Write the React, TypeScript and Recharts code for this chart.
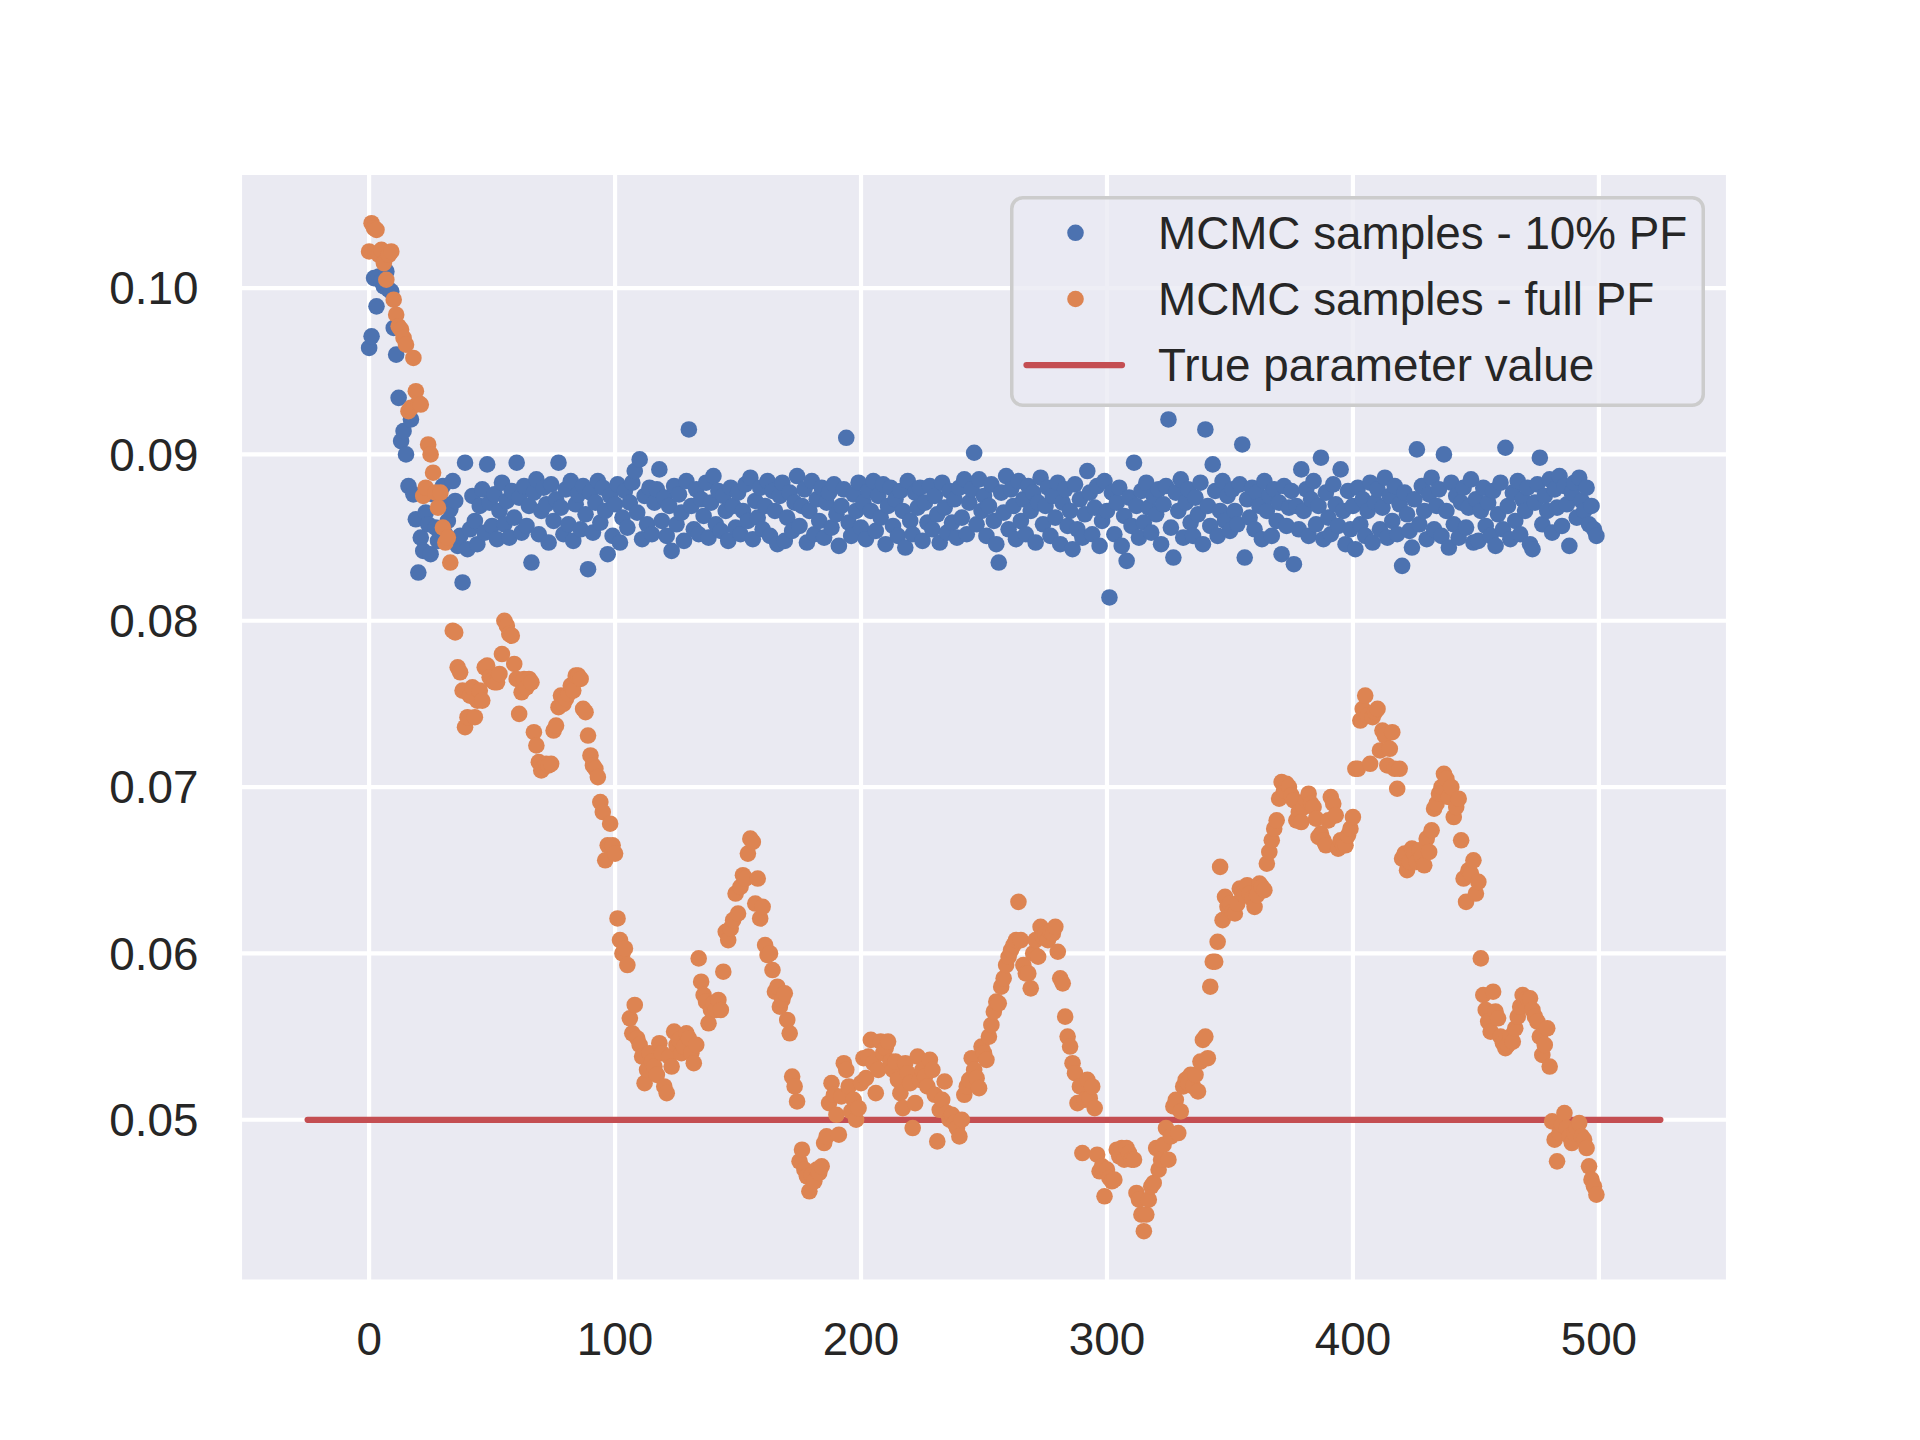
import React from 'react';
import { ScatterChart, Scatter, XAxis, YAxis, CartesianGrid, ReferenceLine, Legend } from 'recharts';

// MCMC chain values, in units of 1e-4
const tenPctPF = [
  964, 971, 1006, 989, 1007, 1004, 1001, 1010, 999, 998, 976, 960, 934, 908, 914, 900, 881, 921, 876, 861, 829, 850, 842, 865, 858,
  840, 876, 856, 848, 872, 881, 852, 860, 867, 884, 872, 845, 851, 823, 895, 843, 855, 875, 860, 846, 869, 879, 853, 894, 871,
  857, 876, 849, 866, 883, 858, 872, 850, 878, 862, 895, 874, 853, 881, 857, 869, 835, 877, 885, 852, 866, 880, 870, 847, 882,
  860, 873, 895, 868, 852, 879, 858, 884, 848, 870, 876, 855, 881, 864, 831, 877, 853, 871, 884, 859, 880, 866, 840, 875, 851,
  870, 882, 847, 862, 878, 856, 871, 883, 890, 865, 897, 849, 875, 858, 880, 852, 871, 879, 891, 860, 874, 851, 869, 842, 881,
  858, 876, 865, 848, 884, 915, 869, 855, 879, 852, 873, 863, 883, 850, 871, 887, 858, 878, 854, 875, 866, 848, 880, 869, 856,
  877, 852, 866, 882, 860, 886, 849, 872, 862, 880, 855, 869, 884, 851, 878, 866, 846, 875, 883, 848, 862, 877, 854, 871, 887,
  857, 869, 879, 847, 866, 884, 852, 873, 860, 880, 850, 871, 877, 856, 882, 864, 845, 869, 879, 910, 859, 851, 876, 866, 883,
  856, 871, 849, 878, 866, 884, 854, 875, 862, 882, 846, 869, 880, 857, 873, 851, 878, 866, 844, 884, 860, 852, 877, 868, 880,
  848, 871, 859, 881, 855, 875, 864, 847, 883, 868, 853, 878, 859, 873, 850, 880, 862, 885, 852, 871, 879, 901, 858, 885, 866,
  875, 851, 869, 882, 860, 846, 835, 877, 865, 887, 855, 879, 869, 849, 884, 860, 873, 852, 881, 866, 877, 847, 871, 886, 858,
  869, 880, 851, 875, 862, 883, 846, 871, 879, 857, 866, 843, 882, 855, 873, 850, 864, 890, 877, 852, 868, 881, 845, 860, 884,
  866, 814, 877, 852, 871, 880, 845, 863, 836, 874, 857, 895, 869, 850, 878, 859, 883, 868, 853, 875, 864, 879, 846, 870, 881,
  921, 856, 838, 877, 866, 885, 850, 871, 879, 859, 851, 874, 864, 883, 846, 915, 869, 857, 894, 878, 851, 866, 884, 860, 875,
  854, 879, 866, 858, 882, 906, 838, 873, 862, 880, 855, 877, 869, 849, 884, 866, 875, 851, 879, 860, 871, 840, 881, 857, 868,
  878, 834, 869, 855, 891, 866, 879, 851, 873, 884, 858, 869, 898, 849, 877, 862, 852, 882, 870, 857, 891, 866, 846, 878, 855,
  869, 843, 880, 858, 873, 851, 866, 883, 847, 871, 879, 855, 868, 886, 850, 875, 860, 881, 852, 870, 833, 877, 864, 854, 844,
  873, 903, 858, 881, 866, 849, 876, 886, 855, 869, 879, 851, 900, 866, 844, 883, 858, 875, 850, 871, 880, 856, 868, 885, 847,
  873, 848, 866, 880, 857, 871, 851, 878, 845, 864, 883, 855, 904, 869, 849, 877, 860, 884, 852, 873, 866, 880, 846, 843, 871,
  882, 898, 858, 875, 866, 885, 853, 879, 868, 887, 857, 881, 870, 845, 877, 883, 862, 886, 872, 866, 880, 858, 869, 855, 851,
];

const fullPF = [
  1022, 1039, 1036, 1035, 1020, 1023, 1015, 1005, 1020, 1022, 993, 984, 977, 975, 970, 966, 926, 928, 958, 938, 931, 930, 875, 880, 906,
  900, 889, 877, 868, 877, 856, 847, 850, 835, 794, 793, 772, 769, 758, 736, 742, 755, 760, 742, 752, 758, 752, 772, 773, 766,
  764, 763, 763, 768, 780, 800, 797, 792, 791, 774, 765, 744, 757, 765, 760, 765, 763, 733, 725, 715, 710, 712, 714, 713, 714,
  734, 737, 748, 755, 750, 753, 756, 761, 758, 767, 767, 765, 747, 745, 731, 719, 713, 711, 706, 691, 685, 656, 665, 678, 665,
  660, 621, 608, 600, 603, 593, 561, 552, 569, 549, 545, 538, 522, 530, 540, 535, 532, 527, 546, 540, 520, 516, 538, 532, 553,
  545, 548, 540, 544, 552, 549, 540, 534, 545, 597, 583, 575, 571, 558, 566, 570, 566, 572, 566, 589, 613, 608, 615, 620, 636,
  624, 640, 647, 645, 660, 669, 667, 630, 645, 621, 628, 605, 599, 600, 590, 577, 580, 568, 572, 576, 560, 552, 526, 520, 511,
  475, 482, 470, 466, 457, 467, 463, 470, 468, 472, 486, 490, 510, 522, 515, 503, 491, 514, 534, 530, 520, 505, 512, 500, 507,
  522, 537, 525, 538, 548, 534, 516, 530, 547, 540, 543, 547, 535, 530, 535, 524, 516, 507, 534, 528, 522, 495, 510, 538, 524,
  530, 526, 520, 536, 530, 515, 487, 506, 512, 523, 504, 500, 503, 498, 495, 490, 500, 515, 520, 524, 537, 530, 525, 519, 544,
  540, 536, 550, 557, 565, 571, 570, 580, 585, 593, 598, 602, 605, 608, 631, 608, 593, 588, 588, 579, 600, 608, 598, 616, 610,
  612, 608, 613, 612, 616, 601, 585, 582, 562, 550, 544, 534, 528, 510, 520, 480, 512, 524, 513, 520, 507, 479, 469, 472, 454,
  470, 465, 463, 464, 482, 478, 483, 476, 483, 480, 476, 476, 456, 452, 443, 433, 443, 452, 460, 462, 483, 470, 476, 485, 495,
  476, 490, 508, 512, 492, 505, 520, 524, 522, 527, 520, 527, 517, 535, 548, 550, 537, 580, 595, 595, 607, 652, 620, 634, 628,
  630, 625, 624, 630, 639, 636, 635, 641, 636, 633, 628, 635, 642, 640, 638, 654, 661, 668, 675, 680, 693, 703, 698, 702, 700,
  695, 692, 680, 685, 679, 688, 692, 696, 690, 688, 681, 670, 672, 668, 665, 680, 694, 690, 683, 663, 668, 665, 665, 671, 675,
  682, 711, 711, 740, 747, 755, 743, 714, 742, 745, 747, 722, 734, 731, 713, 723, 733, 711, 699, 711, 657, 660, 650, 655, 663,
  660, 655, 662, 658, 653, 669, 661, 674, 687, 690, 696, 700, 708, 705, 694, 700, 682, 688, 693, 668, 645, 631, 650, 648, 656,
  636, 643, 597, 575, 566, 559, 553, 577, 565, 561, 550, 546, 543, 545, 550, 547, 555, 562, 568, 575, 570, 573, 573, 566, 562,
  559, 550, 539, 545, 555, 532, 499, 488, 475, 492, 497, 504, 495, 490, 486, 492, 495, 498, 490, 488, 483, 472, 464, 460, 455,
];

const trueValue = 0.05;
const trueLineX = [-25, 525];

const xTicks = [0, 100, 200, 300, 400, 500];
const yTicks = [0.05, 0.06, 0.07, 0.08, 0.09, 0.1];
const legendLabels = ['MCMC samples - 10% PF', 'MCMC samples - full PF', 'True parameter value'];

const BLUE = '#4C72B0';
const ORANGE = '#DD8452';
const RED = '#C44E52';
const FONT = '"Liberation Sans", Arial, Helvetica, sans-serif';
const FS = 45.8;

const toPoints = (arr: number[]) => arr.map((v, i) => ({ x: i, y: v / 10000 }));
const bluePts = toPoints(tenPctPF);
const orangePts = toPoints(fullPF);

const allY = [...tenPctPF, ...fullPF].map((v) => v / 10000);
const yMin = Math.min(...allY);
const yMax = Math.max(...allY);
const yPad = (yMax - yMin) * 0.05;

const dot = (color: string) => (props: any) => (
  <circle cx={props.cx} cy={props.cy} r={8.3} fill={color} />
);

const renderLegend = () => {
  const rows = [36.8, 103, 169];
  return (
    <svg width={695} height={211} style={{ display: 'block', overflow: 'visible' }}>
      <rect x={1.75} y={1.75} width={691.5} height={207.5} rx={11} ry={11}
        fill="#EAEAF2" fillOpacity={0.8} stroke="#CCCCCC" strokeWidth={3.5} />
      <circle cx={65.5} cy={rows[0]} r={8.3} fill={BLUE} />
      <circle cx={65.5} cy={rows[1]} r={8.3} fill={ORANGE} />
      <line x1={16.5} x2={112} y1={rows[2]} y2={rows[2]} stroke={RED} strokeWidth={6.25} strokeLinecap="round" />
      {legendLabels.map((t, i) => (
        <text key={t} x={148} y={rows[i]} dy="0.36em" fontSize={FS} fontFamily={FONT} fill="#262626">{t}</text>
      ))}
    </svg>
  );
};

export default function App() {
  return (
    <div style={{ position: 'absolute', left: 0, top: 0, width: 1920, height: 1440, background: '#fff' }}>
      <ScatterChart width={1920} height={1440} margin={{ top: 172.8, right: 192, bottom: 58.4, left: 40 }}>
        <CartesianGrid fill="#EAEAF2" stroke="#ffffff" strokeWidth={4.17} />
        <XAxis
          type="number"
          dataKey="x"
          domain={[-52.5, 552.5]}
          ticks={xTicks}
          allowDataOverflow
          height={100}
          axisLine={false}
          tickLine={false}
          tickSize={0}
          tickMargin={41}
          tick={{ fontSize: FS, fontFamily: FONT, fill: '#262626' }}
        />
        <YAxis
          type="number"
          dataKey="y"
          domain={[yMin - yPad, yMax + yPad]}
          ticks={yTicks}
          allowDataOverflow
          width={200}
          axisLine={false}
          tickLine={false}
          tickSize={0}
          tickMargin={41.5}
          tickFormatter={(v: number) => v.toFixed(2)}
          tick={{ fontSize: FS, fontFamily: FONT, fill: '#262626' }}
        />
        <Scatter name={legendLabels[0]} data={bluePts} fill={BLUE} shape={dot(BLUE)} isAnimationActive={false} />
        <Scatter name={legendLabels[1]} data={orangePts} fill={ORANGE} shape={dot(ORANGE)} isAnimationActive={false} />
        <ReferenceLine
          segment={[{ x: trueLineX[0], y: trueValue }, { x: trueLineX[1], y: trueValue }]}
          stroke={RED}
          strokeWidth={6.25}
          strokeLinecap="round"
          ifOverflow="visible"
        />
        <Legend
          layout="horizontal"
          verticalAlign="middle"
          align="center"
          content={renderLegend}
          wrapperStyle={{ left: 1010, top: 196, width: 695, height: 211 }}
        />
      </ScatterChart>
    </div>
  );
}
